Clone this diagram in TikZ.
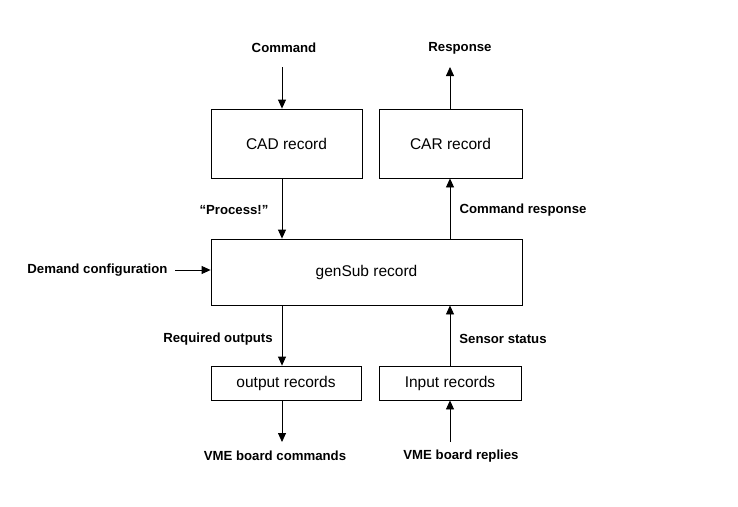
\documentclass[tikz,border=0pt]{standalone}
\usepackage{fontspec}
\setmainfont{Liberation Sans}
\usetikzlibrary{arrows.meta}

\begin{document}
\begin{tikzpicture}[x=1pt, y=-1pt, line width=0.8pt,
    rec/.style={draw, inner sep=0pt, font=\fontsize{15.5}{17}\selectfont},
    lbl/.style={font=\bfseries\fontsize{13.2}{15}\selectfont},
    >={Triangle[length=9pt,width=8pt]}]
    \useasboundingbox (0,0) rectangle (738,506);
    % boxes
    \node[rec, minimum width=151pt, minimum height=69pt] (cad) at (286.5,143.5) {CAD record};
    \node[rec, minimum width=143pt, minimum height=69pt] (car) at (450.5,143.5) {CAR record};
    \node[rec, minimum width=311pt, minimum height=66pt] (gensub) at (366.5,272) {genSub record};
    \node[rec, minimum width=150pt, minimum height=34pt] (outrec) at (286,383) {output records};
    \node[rec, minimum width=142pt, minimum height=34pt] (inrec) at (450,383) {Input records};
    % labels
    \node[lbl] (cmd) at (284,48) {Command};
    \node[lbl] (resp) at (460,48) {Response};
    \node[lbl] (proc) at (234,210) {“Process!”};
    \node[lbl] (cmdresp) at (523,210) {Command response};
    \node[lbl] (demand) at (97.5,270) {Demand configuration};
    \node[lbl] (reqout) at (218,339) {Required outputs};
    \node[lbl] (sensor) at (503,339) {Sensor status};
    \node[lbl] (vmecmd) at (275,456) {VME board commands};
    \node[lbl] (vmerep) at (461,456) {VME board replies};
    % free ends
    \coordinate (cmdin) at (282,67);
    \coordinate (respout) at (450,67);
    \coordinate (demin) at (175,270);
    \coordinate (vmeout) at (282,442);
    \coordinate (vmein) at (450,442);
    % arrows
    \draw[->] (cmdin) -- (cmdin |- cad.north);
    \draw[->] (respout |- car.north) -- (respout);
    \draw[->] (cad.south -| cmdin) -- (gensub.north -| cmdin);
    \draw[->] (gensub.north -| respout) -- (car.south -| respout);
    \draw[->] (demin) -- (demin -| gensub.west);
    \draw[->] (gensub.south -| cmdin) -- (outrec.north -| cmdin);
    \draw[->] (inrec.north -| respout) -- (gensub.south -| respout);
    \draw[->] (outrec.south -| vmeout) -- (vmeout);
    \draw[->] (vmein) -- (vmein |- inrec.south);
\end{tikzpicture}
\end{document}
